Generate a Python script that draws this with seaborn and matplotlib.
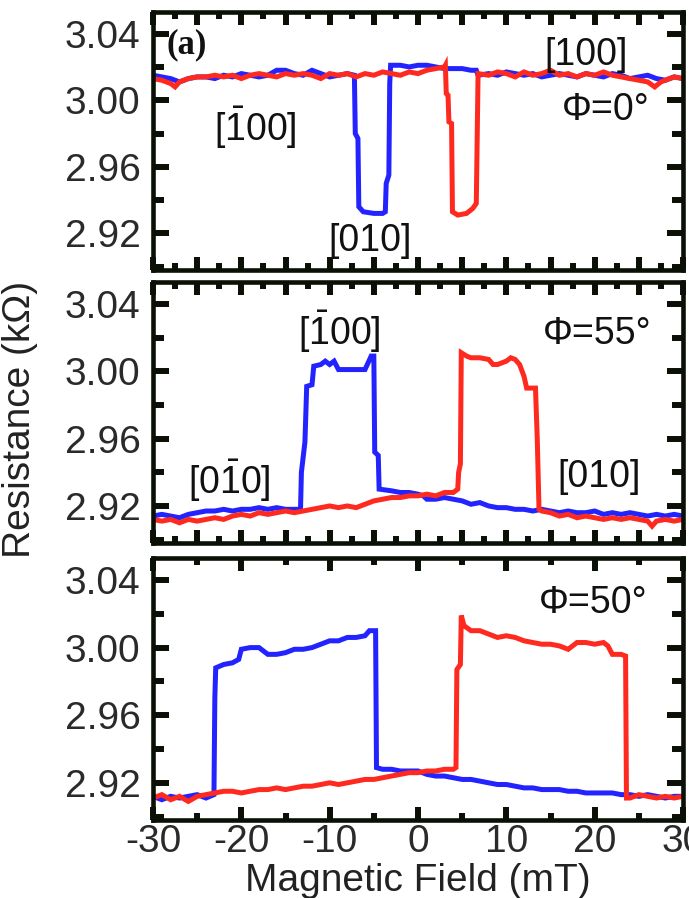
import matplotlib
matplotlib.use("Agg")
import matplotlib.pyplot as plt
import seaborn as sns
import pandas as pd
from matplotlib.ticker import MultipleLocator

# ---------------- data ----------------
# Panel (a), Phi = 0 deg
p1_blue = [(-30, 3.015), (-29, 3.014), (-28, 3.013), (-27, 3.011), (-26, 3.013), (-25, 3.014),
           (-24, 3.014), (-23, 3.013), (-22, 3.015), (-21, 3.014), (-20, 3.016), (-19, 3.015),
           (-18, 3.014), (-17, 3.015), (-16, 3.018), (-15, 3.018), (-14, 3.016), (-13, 3.015),
           (-12, 3.018), (-11, 3.016), (-10, 3.014), (-9, 3.015), (-8, 3.016), (-7.2, 3.015),
           (-7.1, 2.980), (-6.8, 2.977), (-6.7, 2.936), (-6.2, 2.933), (-5, 2.932), (-4, 2.932),
           (-3.7, 2.933), (-3.6, 2.950), (-3.3, 2.955), (-3.2, 3.010), (-3.1, 3.021), (-2, 3.021),
           (-1, 3.020), (0, 3.021), (1, 3.021), (2, 3.020), (3, 3.019), (4, 3.019), (5, 3.019),
           (6, 3.018), (6.6, 3.018), (6.8, 3.015), (8, 3.016), (9, 3.015), (10, 3.017), (11, 3.016),
           (12, 3.015), (13, 3.016), (14, 3.014), (15, 3.015), (16, 3.016), (17, 3.015), (18, 3.014),
           (19, 3.016), (20, 3.015), (21, 3.014), (22, 3.016), (23, 3.015), (24, 3.013), (25, 3.014),
           (26, 3.015), (27, 3.013), (28, 3.012), (29, 3.014), (30, 3.013)]
p1_red = [(-30, 3.013), (-29, 3.012), (-28, 3.010), (-27.5, 3.008), (-27, 3.011), (-26, 3.013),
          (-25, 3.014), (-24, 3.014), (-23, 3.015), (-22, 3.014), (-21, 3.015), (-20, 3.013),
          (-19, 3.015), (-18, 3.016), (-17, 3.015), (-16, 3.014), (-15, 3.016), (-14, 3.015),
          (-13, 3.016), (-12, 3.015), (-11, 3.013), (-10, 3.016), (-9, 3.015), (-8, 3.016),
          (-7, 3.014), (-6, 3.016), (-5, 3.015), (-4, 3.017), (-3, 3.016), (-2, 3.015), (-1, 3.017),
          (0, 3.016), (1, 3.018), (2, 3.019), (3, 3.020), (3.1, 3.021), (3.2, 3.004), (3.4, 3.003),
          (3.5, 2.987), (3.8, 2.986), (3.9, 2.933), (4.5, 2.931), (5.5, 2.932), (6.2, 2.935),
          (6.6, 2.938), (6.8, 3.016), (8, 3.015), (9, 3.017), (10, 3.016), (11, 3.014), (12, 3.017),
          (13, 3.015), (14, 3.016), (15, 3.018), (16, 3.015), (17, 3.016), (18, 3.014), (19, 3.016),
          (20, 3.015), (21, 3.017), (22, 3.015), (23, 3.014), (24, 3.013), (25, 3.012), (26, 3.011),
          (26.8, 3.008), (27.5, 3.011), (28, 3.012), (29, 3.014), (30, 3.013)]

# Panel Phi = 55 deg
p2_blue = [(-30, 2.914), (-29, 2.915), (-28, 2.914), (-27, 2.913), (-26, 2.915), (-25, 2.916),
           (-24, 2.917), (-23, 2.917), (-22, 2.918), (-21, 2.917), (-20, 2.918), (-19, 2.918),
           (-18, 2.919), (-17, 2.918), (-16, 2.919), (-15, 2.918), (-14, 2.918), (-13.3, 2.918),
           (-13.2, 2.940), (-12.8, 2.958), (-12.6, 2.991), (-12, 2.992), (-11.8, 3.003), (-11, 3.004),
           (-10.5, 3.006), (-10, 3.004), (-9.5, 3.006), (-9, 3.001), (-8, 3.001), (-7, 3.001),
           (-6, 3.001), (-5.3, 3.009), (-5.0, 3.009), (-4.9, 2.952), (-4.5, 2.950), (-4.4, 2.930),
           (-3, 2.929), (-2, 2.928), (-1, 2.928), (0, 2.927), (0.6, 2.926), (1, 2.924), (2, 2.924),
           (3, 2.925), (4, 2.924), (5, 2.923), (6, 2.921), (7, 2.922), (8, 2.920), (9, 2.919),
           (10, 2.919), (11, 2.918), (12, 2.918), (13, 2.917), (14, 2.918), (15, 2.917), (16, 2.916),
           (17, 2.917), (18, 2.916), (19, 2.916), (20, 2.917), (21, 2.915), (22, 2.916), (23, 2.915),
           (24, 2.916), (25, 2.915), (26, 2.914), (27, 2.915), (28, 2.914), (29, 2.915), (30, 2.914)]
p2_red = [(-30, 2.912), (-29, 2.911), (-28, 2.912), (-27, 2.910), (-26, 2.912), (-25, 2.911),
          (-24, 2.912), (-23, 2.913), (-22, 2.912), (-21, 2.914), (-20, 2.915), (-19, 2.914),
          (-18, 2.916), (-17, 2.915), (-16, 2.916), (-15, 2.917), (-14, 2.916), (-13, 2.917),
          (-12, 2.918), (-11, 2.919), (-10, 2.920), (-9, 2.919), (-8, 2.920), (-7, 2.919),
          (-6, 2.921), (-5, 2.923), (-4, 2.924), (-3, 2.925), (-2, 2.925), (-1, 2.926), (0, 2.926),
          (1, 2.927), (2, 2.926), (3, 2.928), (4, 2.928), (4.5, 2.930), (4.6, 2.940), (4.8, 2.945),
          (4.9, 3.011), (5.5, 3.009), (6, 3.008), (7, 3.008), (8, 3.007), (8.5, 3.004), (9, 3.004),
          (10, 3.006), (10.5, 3.008), (11, 3.007), (11.5, 3.004), (12, 2.997), (12.3, 2.990),
          (13.3, 2.990), (13.5, 2.960), (13.7, 2.918), (14, 2.917), (15, 2.916), (16, 2.914),
          (17, 2.915), (18, 2.913), (19, 2.914), (20, 2.913), (21, 2.912), (22, 2.913), (23, 2.912),
          (24, 2.913), (25, 2.912), (26, 2.911), (26.5, 2.908), (27, 2.911), (28, 2.912),
          (29, 2.911), (30, 2.912)]

# Panel Phi = 50 deg
p3_blue = [(-30, 2.912), (-29, 2.910), (-28, 2.912), (-27, 2.911), (-26, 2.912), (-25, 2.913),
           (-24, 2.911), (-23.1, 2.913), (-23, 2.970), (-22.9, 2.988), (-22, 2.990), (-21, 2.991),
           (-20.3, 2.993), (-20, 2.999), (-19, 3.000), (-18, 3.000), (-17.5, 2.998), (-17, 2.996),
           (-16, 2.996), (-15, 2.997), (-14, 2.999), (-13, 2.999), (-12, 3.000), (-11, 3.002),
           (-10, 3.004), (-9, 3.004), (-8, 3.006), (-7, 3.006), (-6, 3.007), (-5.5, 3.010),
           (-4.8, 3.010), (-4.7, 2.929), (-4, 2.928), (-3, 2.928), (-2, 2.927), (-1, 2.927),
           (0, 2.927), (1, 2.925), (2, 2.924), (3, 2.924), (4, 2.923), (5, 2.922), (6, 2.922),
           (7, 2.921), (8, 2.920), (9, 2.919), (10, 2.919), (11, 2.918), (12, 2.917), (13, 2.917),
           (14, 2.916), (15, 2.916), (16, 2.916), (17, 2.915), (18, 2.915), (19, 2.914), (20, 2.914),
           (21, 2.914), (22, 2.914), (23, 2.913), (24, 2.913), (25, 2.912), (26, 2.913), (27, 2.912),
           (28, 2.911), (29, 2.912), (30, 2.912)]
p3_red = [(-30, 2.911), (-29, 2.913), (-28, 2.910), (-27, 2.912), (-26, 2.909), (-25, 2.912),
          (-24, 2.913), (-23, 2.914), (-22, 2.915), (-21, 2.915), (-20, 2.914), (-19, 2.915),
          (-18, 2.916), (-17, 2.916), (-16, 2.917), (-15, 2.916), (-14, 2.917), (-13, 2.918),
          (-12, 2.918), (-11, 2.919), (-10, 2.920), (-9, 2.919), (-8, 2.920), (-7, 2.921),
          (-6, 2.922), (-5, 2.922), (-4, 2.923), (-3, 2.924), (-2, 2.925), (-1, 2.926), (0, 2.926),
          (1, 2.927), (2, 2.927), (3, 2.928), (4, 2.928), (4.3, 2.929), (4.4, 2.987), (4.8, 2.990),
          (4.9, 3.019), (5.2, 3.013), (6, 3.010), (7, 3.010), (8, 3.008), (9, 3.006), (10, 3.007),
          (11, 3.006), (12, 3.004), (13, 3.003), (14, 3.002), (15, 3.002), (16, 3.001), (17, 2.999),
          (18, 3.003), (19, 3.003), (20, 3.002), (21, 3.003), (21.5, 3.001), (22, 2.996),
          (23, 2.996), (23.5, 2.995), (23.6, 2.911), (24, 2.911), (25, 2.913), (26, 2.912),
          (27, 2.911), (28, 2.912), (29, 2.911), (30, 2.912)]

panel_traces = [(p1_blue, p1_red), (p2_blue, p2_red), (p3_blue, p3_red)]
y_ticks = [2.92, 2.96, 3.00, 3.04]
x_ticks = [-30, -20, -10, 0, 10, 20, 30]
x_label = "Magnetic Field (mT)"
y_label = "Resistance (kΩ)"
BAR1 = r"[$\bar{\mathrm{1}}$00]"
BAR010 = r"[0$\bar{\mathrm{1}}$0]"
annotations = [
    [("(a)", 0.026, 0.872, "left", "serif_bold"), ("[100]", 0.817, 0.833, "center", None),
     (BAR1, 0.194, 0.55, "center", None), ("Φ=0°", 0.855, 0.62, "center", None),
     ("[010]", 0.409, 0.112, "center", None)],
    [(BAR1, 0.351, 0.808, "center", None), ("Φ=55°", 0.838, 0.80, "center", None),
     (BAR010, 0.145, 0.238, "center", None), ("[010]", 0.842, 0.253, "center", None)],
    [("Φ=50°", 0.83, 0.828, "center", None)],
]

# ---------------- style ----------------
sns.set_theme(style="ticks")
plt.rcParams["font.family"] = ["Liberation Sans", "DejaVu Sans"]
plt.rcParams["mathtext.fontset"] = "custom"
plt.rcParams["mathtext.rm"] = "Liberation Sans"
plt.rcParams["mathtext.it"] = "Liberation Sans:italic"
plt.rcParams["mathtext.bf"] = "Liberation Sans:bold"
plt.rcParams["axes.unicode_minus"] = False

BLUE = "#2323ff"
RED = "#ff2a1f"
FRAME = "#0a1005"
TICKC = "#2a2a2a"

fig = plt.figure(figsize=(6.89, 8.98), dpi=100)
W, H = 689.0, 898.0
boxes = [(153, 12, 683, 270), (153, 282, 683, 543), (153, 558, 683, 820)]

for i, (box, (blue, red), ann) in enumerate(zip(boxes, panel_traces, annotations)):
    l, t, r, b = box
    ax = fig.add_axes([l / W, 1 - b / H, (r - l) / W, (b - t) / H])
    dfb = pd.DataFrame(blue, columns=["B", "R"])
    dfr = pd.DataFrame(red, columns=["B", "R"])
    sns.lineplot(data=dfb, x="B", y="R", sort=False, estimator=None, color=BLUE,
                 linewidth=3.6, ax=ax, solid_joinstyle="miter")
    sns.lineplot(data=dfr, x="B", y="R", sort=False, estimator=None, color=RED,
                 linewidth=3.6, ax=ax, solid_joinstyle="miter")
    ax.set_xlim(-30, 30)
    ax.set_ylim(2.898, 3.053)
    ax.set_yticks(y_ticks)
    ax.yaxis.set_minor_locator(MultipleLocator(0.02))
    if i < 2:
        ax.xaxis.set_major_locator(MultipleLocator(5))
        ax.xaxis.set_minor_locator(MultipleLocator(2.5))
    else:
        ax.set_xticks(x_ticks)
        ax.xaxis.set_minor_locator(MultipleLocator(5))
    for sp in ax.spines.values():
        sp.set_linewidth(3.3)
        sp.set_color(FRAME)
        sp.set_visible(True)
    ax.tick_params(axis="both", which="both", direction="in", top=True, right=True,
                   color=FRAME, width=4.3)
    ax.tick_params(axis="y", which="major", length=11.5, labelsize=28, labelcolor=TICKC, pad=9)
    ax.tick_params(axis="y", which="minor", length=8)
    ax.tick_params(axis="x", which="major", length=9.5, labelsize=28, labelcolor=TICKC, pad=3)
    ax.tick_params(axis="x", which="minor", length=5)
    ax.set_yticklabels([f"{v:.2f}" for v in y_ticks])
    if i < 2:
        ax.tick_params(axis="x", labelbottom=False)
    else:
        ax.set_xticklabels([str(v) for v in x_ticks])
    ax.set_xlabel("")
    ax.set_ylabel("")
    for txt, fx, fy, ha, kind in ann:
        if kind == "serif_bold":
            ax.text(fx, fy, txt, transform=ax.transAxes, ha=ha, va="center",
                    fontsize=25, fontweight="bold", family=["Liberation Serif", "DejaVu Serif"],
                    color="#111111")
        else:
            ax.text(fx, fy, txt, transform=ax.transAxes, ha=ha, va="center",
                    fontsize=27, color="#111111")

fig.text(20 / W, 1 - 419 / H, y_label, rotation=90, ha="center", va="center",
         fontsize=28, color="#222222")
fig.text(418 / W, 1 - 881 / H, x_label, ha="center", va="center", fontsize=28, color="#222222")

fig.savefig("out.png", dpi=100)
